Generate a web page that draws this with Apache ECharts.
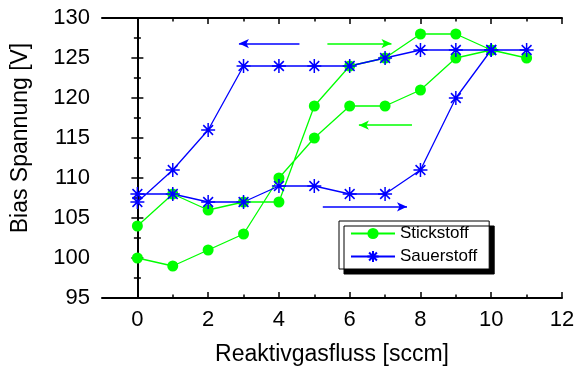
<!DOCTYPE html>
<html>
<head>
<meta charset="utf-8">
<script src="https://cdn.jsdelivr.net/npm/echarts@6/dist/echarts.min.js"></script>
<style>
html,body{margin:0;padding:0;background:#fff;}
#chart{width:576px;height:374px;}
</style>
</head>
<body>
<div id="chart"></div>
<script>
// Flow values along each hysteresis loop (up, then back down)
const stickstoffX = [0,1,2,3,4,5,6,7,8,9,10,11,10,9,8,7,6,5,4,3,2,1,0];
const stickstoffY = [104,108,106,107,107,119,124,125,128,128,126,125,126,125,121,119,119,115,110,103,101,99,100];
const sauerstoffX = [0,1,2,3,4,5,6,7,8,9,10,11,10,9,8,7,6,5,4,3,2,1,0];
const sauerstoffY = [108,108,107,107,109,109,108,108,111,120,126,126,126,126,126,125,124,124,124,124,116,111,107];

// Direction arrows [x1, y1, x2, y2] in data units
const arrowsStickstoff = [[5.37,126.8,7.18,126.8],[7.76,116.6,6.26,116.6]];
const arrowsSauerstoff = [[4.58,126.8,2.87,126.8],[5.24,106.4,7.62,106.4]];

const xMajorTicks = [0,2,4,6,8,10,12];
const xMinorTicks = [1,3,5,7,9,11];
const seriesNames = ['Stickstoff','Sauerstoff'];
const xTitle = 'Reaktivgasfluss [sccm]';
const yTitle = 'Bias Spannung [V]';

const FONT = 'Liberation Sans';
const green = '#00ff00';
const blue = '#0000ff';
const starPath = 'path://M10 0L10 20M0 10L20 10M3 3L17 17M3 17L17 3';

function pairs(xs, ys){ return xs.map((x,i)=>[x, ys[i]]); }
function arrowData(arr){ return arr.map(a=>[{coord:[a[0],a[1]]},{coord:[a[2],a[3]]}]); }

const axisLineStyle = {color:'#000', width:2};
function xAxisDef(pos, ticks, len, main){
  return {
    type:'value', min:-1, max:12, position:pos,
    axisLine:{show:main, lineStyle:axisLineStyle},
    axisTick:{show:true, inside:true, length:len, customValues:ticks, lineStyle:{color:'#000', width:1.5}},
    axisLabel: (main && pos==='bottom') ? {show:true, customValues:xMajorTicks, fontFamily:FONT, fontSize:22, color:'#000', margin:11} : {show:false},
    splitLine:{show:false},
    name: (main && pos==='bottom') ? xTitle : '',
    nameLocation:'middle', nameGap:45,
    nameTextStyle:{fontFamily:FONT, fontSize:23, color:'#000'}
  };
}

const option = {
  animation:false,
  backgroundColor:'#fff',
  grid:{left:102, right:14, top:18, bottom:76, containLabel:false, outerBoundsMode:'none'},
  xAxis:[
    xAxisDef('bottom', xMajorTicks, 6, true),
    xAxisDef('bottom', xMinorTicks, 3.5, false),
    xAxisDef('top', xMajorTicks, 6, true),
    xAxisDef('top', xMinorTicks, 3.5, false)
  ],
  yAxis:[
    {
      type:'value', min:95, max:130, interval:5, position:'left',
      axisLine:{show:true, lineStyle:axisLineStyle},
      axisTick:{show:true, inside:true, length:6, lineStyle:{color:'#000', width:1.5}},
      minorTick:{show:true, splitNumber:2, length:3.5, lineStyle:{color:'#000', width:1.5}},
      axisLabel:{fontFamily:FONT, fontSize:22, color:'#000', margin:12},
      splitLine:{show:false},
      name:yTitle, nameLocation:'middle', nameGap:70,
      nameTextStyle:{fontFamily:FONT, fontSize:23, color:'#000', padding:[0,0,0,40]}
    },
    {
      type:'value', min:95, max:130, interval:5, position:'right',
      axisLine:{show:true, lineStyle:axisLineStyle},
      axisTick:{show:true, inside:true, length:6, lineStyle:{color:'#000', width:1.5}},
      minorTick:{show:true, splitNumber:2, length:3.5, lineStyle:{color:'#000', width:1.5}},
      axisLabel:{show:false},
      splitLine:{show:false}
    }
  ],
  legend:{
    left:339, top:221, orient:'vertical',
    data:seriesNames,
    itemWidth:44, itemHeight:14, itemGap:6, itemTextGap:5,
    padding:[4,12,4,11],
    backgroundColor:'#fff', borderColor:'#000', borderWidth:1,
    shadowColor:'#000', shadowBlur:0, shadowOffsetX:5, shadowOffsetY:5,
    textStyle:{fontFamily:FONT, fontSize:17, color:'#000'}
  },
  series:[
    {
      name:seriesNames[0], type:'line', xAxisIndex:0, yAxisIndex:0,
      data:pairs(stickstoffX, stickstoffY),
      symbol:'circle', symbolSize:11,
      lineStyle:{color:green, width:1.3},
      itemStyle:{color:green},
      markLine:{
        silent:true, animation:false, symbol:['none','arrow'], symbolSize:[7,10],
        label:{show:false},
        lineStyle:{color:green, width:1.5, type:'solid'},
        data:arrowData(arrowsStickstoff)
      }
    },
    {
      name:seriesNames[1], type:'line', xAxisIndex:0, yAxisIndex:0,
      data:pairs(sauerstoffX, sauerstoffY),
      symbol:starPath, symbolSize:14,
      lineStyle:{color:blue, width:1.3},
      itemStyle:{color:blue, borderColor:blue, borderWidth:1.5},
      markLine:{
        silent:true, animation:false, symbol:['none','arrow'], symbolSize:[7,10],
        label:{show:false},
        lineStyle:{color:blue, width:1.5, type:'solid'},
        data:arrowData(arrowsSauerstoff)
      }
    }
  ]
};

const chart = echarts.init(document.getElementById('chart'), null, {renderer:'canvas'});
chart.setOption(option);
</script>
</body>
</html>
